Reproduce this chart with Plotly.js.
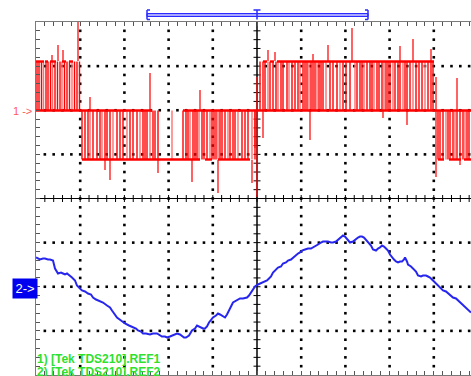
<!DOCTYPE html>
<html><head><meta charset="utf-8">
<script src="https://cdn.plot.ly/plotly-3.0.1.min.js"></script>
<style>html,body{margin:0;padding:0;background:#fff;overflow:hidden}#chart{width:471px;height:376px}</style>
</head><body><div id="chart"></div>
<script>
// ---------- DATA ----------
// time: screen samples from the left edge of the graticule (1 division = 44.2 samples)
// Channel 1 (red): three-level PWM output (peak-detect display), values relative to its ground marker
const levelHigh = 49, levelZero = 0, levelLow = -49;
// horizontal runs of the trace at each level
const runLevel = [49, 49, 49, 49, 49, 49, 49, 49, 0, 0, -49, -49, -49, -49, -49, -49];
const runFrom  = [0, 9, 14, 26, 33, 227, 234, 241, 0, 147, 46, 169, 182, 402, 413, 428];
const runTo    = [8, 12, 20, 30, 37, 231, 238, 398, 116, 435, 164, 176, 214, 408, 425, 435];
// switching edges, grouped by half-cycle segment (edges span between the zero level and the segment level)
const segmentLevel = [49, -49, 49, -49];
const edgesA = [1, 3, 5.5, 7.5, 10, 12, 14.5, 16.5, 19, 21.5, 24, 26, 28.5, 31, 33.5, 36, 38.5, 41, 43.5];
const edgesB = [46, 49, 52, 54, 57, 61, 64, 66, 69, 71, 74, 77, 81, 84, 87, 91, 94, 97, 101, 104, 107, 109, 111, 114, 117, 119, 122, 136, 147, 150, 152, 154, 157, 159, 161, 163, 166, 168, 171, 174, 176, 178, 180, 182, 184, 186, 189, 192, 194, 197, 199, 202, 206, 209, 212, 216, 219];
const edgesC = [224, 227, 229, 232, 234, 237, 240, 242, 245, 247, 251, 253, 256, 259, 262, 264, 267, 269, 271, 273, 275, 277, 279, 281, 283, 285, 287, 290, 294, 297, 301, 304, 307, 310, 314, 319, 321, 324, 326, 328, 331, 334, 336, 338, 341, 343, 346, 348, 350, 352, 354, 357, 359, 362, 364, 367, 369, 371, 374, 377, 380, 383, 386, 389, 392, 395, 397];
const edgesD = [402, 404, 407, 410, 412, 414, 417, 419, 421, 424, 427, 429, 431, 433];
const segmentEdges = [edgesA, edgesB, edgesC, edgesD];
// switching overshoot spikes of channel 1
const spikeT    = [42, 22, 27, 16, 54, 69, 74, 114, 122, 156, 164, 182, 216, 221, 219, 227, 232, 239, 274, 277, 292, 316, 347, 364, 371, 377, 395, 400, 421, 424];
const spikeFrom = [49.5, 49.5, 49.5, 49.5, 0, -49.5, -49.5, 0, -49.5, -49.5, 0, -49.5, -49.5, 33.5, 0, 0, 49.5, 49.5, 0, 49.5, 49.5, 49.5, 0, 49.5, 0, 49.5, 49.5, 33.5, 0, -49.5];
const spikeTo   = [88.5, 65.5, 60.5, 55.5, 13.5, -59.5, -69.5, 37.5, -62.5, -71.5, 20.5, -82.5, -72.5, -86.5, -37.5, -27.5, 60.5, 58.5, -29.5, 56.5, 65.5, 82.5, -7.5, 64.5, -14.5, 71.5, 61.5, -66.5, 32.5, -54.5];
// Channel 2 (blue): filtered sine, values relative to its ground marker
const blueT = [0,2,4,7,9,12,14,17,19,22,25,27,29,31,34,36,39,41,44,46,49,52,55,57,60,64,67,71,74,76,79,81,85,89,93,97,100,102,105,107,110,114,117,121,124,126,129,131,134,136,139,141,144,146,148,150,153,156,159,161,163,165,167,169,171,173,175,177,180,182,184,186,188,189,191,193,195,197,200,204,207,211,213,215,217,219,222,224,227,229,231,233,235,237,240,242,245,247,250,252,255,257,260,262,264,266,269,272,275,277,280,282,285,287,290,292,295,297,300,302,305,307,309,311,313,314,317,319,322,324,326,328,330,332,335,337,340,342,344,346,348,350,352,354,356,358,360,362,364,366,368,369,371,372,375,377,380,382,385,387,390,392,394,396,399,401,404,407,410,412,415,417,420,422,424,426,428,430,433,435];
const blueV = [31,30,29,30,30,29,29,28,20,15,16,15,14,15,13,11,8,3,0,-2,-3,-5,-6,-9,-11,-13,-14,-17,-19,-22,-26,-29,-32,-35,-37,-39,-40,-42,-43,-45,-45,-46,-45,-45,-47,-48,-48,-49,-48,-47,-46,-45,-46,-48,-49,-49,-47,-42,-40,-37,-38,-39,-40,-40,-38,-34,-31,-29,-27,-25,-26,-27,-28,-29,-26,-21,-18,-14,-12,-10,-10,-9,-7,-4,-1,2,4,5,6,7,8,10,12,16,19,21,22,25,26,28,29,31,33,35,36,38,39,40,40,41,43,44,46,47,47,47,46,46,47,49,51,53,52,50,48,46,47,49,51,52,52,51,49,46,43,39,38,40,41,43,42,40,38,34,31,29,27,26,27,27,29,31,27,24,22,20,17,13,12,13,13,12,11,9,6,4,0,-2,-3,-5,-7,-9,-10,-12,-14,-16,-18,-20,-22,-24,-26,-28,-30];
const legendLines = ['1) [Tek TDS210].REF1', '2) [Tek TDS210].REF2'];
const markerLabels = ['1 -&gt;', '2-&gt;'];

// ---------- LAYOUT CONSTANTS ----------
const W = 471, H = 376, ML = 36, MT = 22, MB = 1;
const plotW = W - ML, plotH = H - MT - MB;
const xMax = plotW, yMax = plotH / 2;
const divX = 44.2, divY = plotH / 8;
const ch1Offset = 88, ch2Offset = -90;
const centerX = 5 * divX;
const px2paperX = px => (px - ML) / plotW;
const py2paperY = py => (H - MB - py) / plotH;

// channel 1 horizontal runs
const hx = [], hy = [];
runLevel.forEach((lv, i) => { hx.push(runFrom[i], runTo[i], null); hy.push(lv + ch1Offset, lv + ch1Offset, null); });
// channel 1 edges (two tones, like the anti-aliased screen capture)
const ex1 = [], ey1 = [], ex2 = [], ey2 = [];
segmentEdges.forEach((edges, s) => {
  edges.forEach((t, i) => {
    const light = (i % 4 === 3);
    const X = light ? ex2 : ex1, Y = light ? ey2 : ey1;
    X.push(t, t, null); Y.push(levelZero + ch1Offset, segmentLevel[s] + ch1Offset, null);
  });
});
const sx = [], sy = [];
spikeT.forEach((t, i) => { sx.push(t, t, null); sy.push(spikeFrom[i] + ch1Offset, spikeTo[i] + ch1Offset, null); });

// graticule dots
const dx = [], dy = [];
for (let k = 1; k <= 9; k++) {
  if (k === 5) continue;
  for (let m = -19; m <= 19; m++) { dx.push(k * divX); dy.push(m * divY / 5); }
}
for (let j = -3; j <= 3; j++) {
  if (j === 0) continue;
  for (let n = 1; n * divX / 5 <= xMax; n++) { if (n % 5 === 0) continue; dx.push(n * divX / 5); dy.push(j * divY); }
}
// center cross minor ticks
const tx = [], ty = [];
for (let n = 1; n * divX / 5 <= xMax; n++) { const x = n * divX / 5; tx.push(x, x, null); ty.push(-3.5, 3.5, null); }
for (let m = -19; m <= 19; m++) { const y = m * divY / 5; tx.push(centerX - 3.5, centerX + 3.5, null); ty.push(y, y, null); }

const traces = [
  {x: dx, y: dy, mode: 'markers', marker: {symbol: 'square', size: 2.6, color: '#000'}, hoverinfo: 'skip'},
  {x: tx, y: ty, mode: 'lines', line: {color: '#000', width: 1}, hoverinfo: 'skip'},
  {x: [0, xMax], y: [0, 0], mode: 'lines', line: {color: '#000', width: 1.2}, hoverinfo: 'skip'},
  {x: [centerX, centerX], y: [-yMax, yMax], mode: 'lines', line: {color: '#000', width: 1.5}, hoverinfo: 'skip'},
  {x: blueT, y: blueV.map(v => v + ch2Offset), mode: 'lines', line: {color: '#2626ee', width: 2}},
  {x: ex2, y: ey2, mode: 'lines', line: {color: '#ff7070', width: 1.4}},
  {x: ex1, y: ey1, mode: 'lines', line: {color: '#ff0000', width: 1.4}},
  {x: sx, y: sy, mode: 'lines', line: {color: '#ff1010', width: 1.3}},
  {x: hx, y: hy, mode: 'lines', line: {color: '#ff0000', width: 2.4}}
];

const barColor = '#2b2bff';
const shapes = [
  {type: 'rect', xref: 'paper', yref: 'paper', x0: px2paperX(147), x1: px2paperX(368), y0: py2paperY(16.5), y1: py2paperY(13.5), line: {color: barColor, width: 1}, fillcolor: '#a8a8ff'},
  {type: 'line', xref: 'paper', yref: 'paper', x0: px2paperX(147), x1: px2paperX(147), y0: py2paperY(19.5), y1: py2paperY(10), line: {color: barColor, width: 1.5}},
  {type: 'line', xref: 'paper', yref: 'paper', x0: px2paperX(147), x1: px2paperX(150), y0: py2paperY(10), y1: py2paperY(10), line: {color: barColor, width: 1.5}},
  {type: 'line', xref: 'paper', yref: 'paper', x0: px2paperX(147), x1: px2paperX(150), y0: py2paperY(19.5), y1: py2paperY(19.5), line: {color: barColor, width: 1.5}},
  {type: 'line', xref: 'paper', yref: 'paper', x0: px2paperX(368), x1: px2paperX(368), y0: py2paperY(19.5), y1: py2paperY(10), line: {color: barColor, width: 1.5}},
  {type: 'line', xref: 'paper', yref: 'paper', x0: px2paperX(365), x1: px2paperX(368), y0: py2paperY(10), y1: py2paperY(10), line: {color: barColor, width: 1.5}},
  {type: 'line', xref: 'paper', yref: 'paper', x0: px2paperX(365), x1: px2paperX(368), y0: py2paperY(19.5), y1: py2paperY(19.5), line: {color: barColor, width: 1.5}},
  {type: 'line', xref: 'paper', yref: 'paper', x0: px2paperX(257), x1: px2paperX(257), y0: py2paperY(19.5), y1: py2paperY(10), line: {color: barColor, width: 1.5}},
  {type: 'line', xref: 'paper', yref: 'paper', x0: px2paperX(253.5), x1: px2paperX(260.5), y0: py2paperY(10), y1: py2paperY(10), line: {color: barColor, width: 1.5}}
];

const font = 'Liberation Sans, Arial, sans-serif';
const annotations = [
  {xref: 'paper', x: px2paperX(11), xanchor: 'left', yref: 'y', y: ch1Offset, yanchor: 'middle', text: markerLabels[0], showarrow: false, font: {family: font, size: 11, color: '#ff5a5a'}},
  {xref: 'paper', x: px2paperX(12), xanchor: 'left', yref: 'y', y: ch2Offset, yanchor: 'middle', text: markerLabels[1], showarrow: false, bgcolor: '#0000ee', width: 24, height: 19, borderpad: 0, font: {family: font, size: 13, color: '#ffffff'}},
  {xref: 'paper', x: 0, xanchor: 'left', yref: 'paper', y: py2paperY(358.5), yanchor: 'middle', text: legendLines[0], showarrow: false, borderpad: 0, font: {family: font, size: 12, weight: 'bold', color: '#2fe02f'}},
  {xref: 'paper', x: 0, xanchor: 'left', yref: 'paper', y: py2paperY(371.5), yanchor: 'middle', text: legendLines[1], showarrow: false, borderpad: 0, font: {family: font, size: 12, weight: 'bold', color: '#2fe02f'}}
];

const layout = {
  width: W, height: H, autosize: false,
  margin: {l: ML, r: 0, t: MT, b: MB, pad: 0},
  paper_bgcolor: '#fff', plot_bgcolor: '#fff', showlegend: false,
  font: {family: font},
  xaxis: {range: [0, xMax], showgrid: false, zeroline: false, showline: true, linecolor: '#7a7a7a', linewidth: 1.5, mirror: 'ticks',
          ticks: 'inside', tickmode: 'linear', tick0: 0, dtick: divX / 5, ticklen: 4, tickcolor: '#555', tickwidth: 1, showticklabels: false, fixedrange: true},
  yaxis: {range: [-yMax, yMax], showgrid: false, zeroline: false, showline: true, linecolor: '#7a7a7a', linewidth: 1.5,
          ticks: 'inside', tickmode: 'linear', tick0: 0, dtick: divY / 5, ticklen: 4, tickcolor: '#555', tickwidth: 1, showticklabels: false, fixedrange: true},
  shapes: shapes, annotations: annotations
};
Plotly.newPlot('chart', traces, layout, {displayModeBar: false, staticPlot: true});
</script></body></html>
